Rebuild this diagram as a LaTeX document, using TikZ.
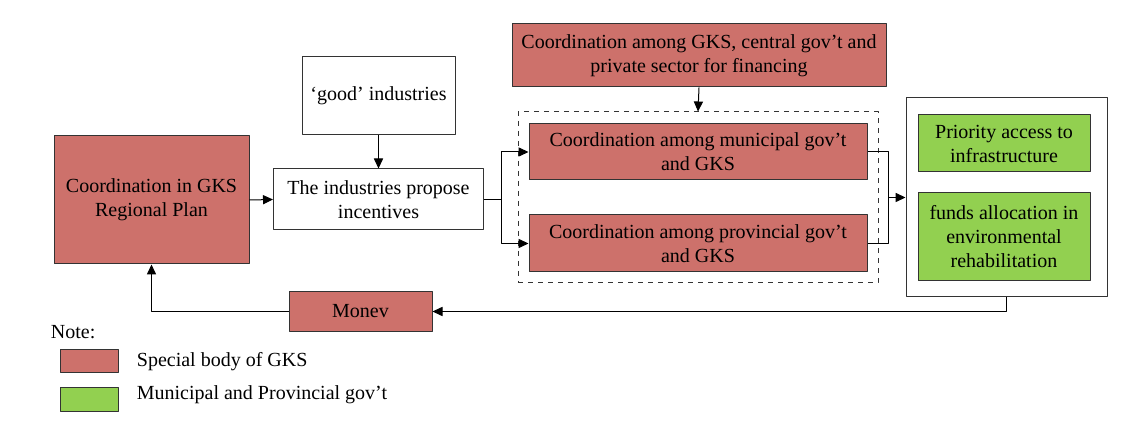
\documentclass[tikz,border=0pt]{standalone}
\usepackage{fontspec}
\setmainfont{Liberation Serif}
\usetikzlibrary{arrows.meta}

\definecolor{gksred}{RGB}{205,113,107}
\definecolor{govgreen}{RGB}{146,208,80}

\begin{document}
\begin{tikzpicture}[
  x=0.6pt,
  y=-0.6pt,
  line join=round,
  txt/.style={font=\rmfamily\fontsize{12}{14.4}\selectfont},
  basebox/.style={txt,draw=black!80,line width=0.6pt,align=center,inner sep=0pt},
  gksbox/.style={basebox,fill=gksred},
  govbox/.style={basebox,fill=govgreen},
  whitebox/.style={basebox,fill=white},
  boxsize/.style 2 args={minimum width=#1*0.6pt,minimum height=#2*0.6pt},
  arr/.style={line width=0.6pt,-{Triangle[length=6pt,width=5.5pt]}},
  link/.style={line width=0.6pt}
]
  \useasboundingbox (0,0) rectangle (1144,437);

  % Левая часть
  \node[gksbox,boxsize={195}{128}] (plan) at (151.5,200)
    {Coordination in GKS\\Regional Plan};
  \node[whitebox,boxsize={153}{78}] (good) at (378.5,96)
    {‘good’ industries};
  \node[whitebox,boxsize={210}{61}] (ind) at (378.5,199.5)
    {The industries propose\\incentives};

  % Координация
  \node[gksbox,boxsize={374}{63}] (fin) at (699,55.5)
    {Coordination among GKS, central gov’t and\\private sector for financing};
  \node[draw=black!80,dashed,line width=0.6pt,boxsize={360}{171}] (grp)
    at (698,197.5) {};
  \node[gksbox,boxsize={338}{56}] (mun) at (698,152)
    {Coordination among municipal gov’t\\and GKS};
  \node[gksbox,boxsize={338}{57}] (prov) at (698,243.5)
    {Coordination among provincial gov’t\\and GKS};

  % Результаты
  \node[whitebox,boxsize={201}{199}] (out) at (1006.5,197.5) {};
  \node[govbox,boxsize={172}{57}] (acc) at (1004,143.5)
    {Priority access to\\infrastructure};
  \node[govbox,boxsize={172}{88}] (fund) at (1004,237)
    {funds allocation in\\environmental\\rehabilitation};

  \node[gksbox,boxsize={143}{39}] (monev) at (360.5,311.5) {Monev};

  % Связи
  \draw[arr] (plan.east) -- (ind.west);
  \draw[arr] (good.south) -- (ind.north);
  \path (ind.east) ++(17,0) coordinate (bl);
  \draw[link] (ind.east) -- (bl);
  \draw[arr] (bl) |- (mun.west);
  \draw[arr] (bl) |- (prov.west);
  \draw[arr] (fin.south) -- (grp.north);
  \path (mun.east) ++(21,0) coordinate (br);
  \draw[link] (mun.east) -- (br) -- (br |- prov.east) -- (prov.east);
  \draw[arr] (br |- out.west) -- (out.west);
  \draw[arr] (out.south) |- (monev.east);
  \draw[arr] (monev.west) -| (plan.south);

  % Легенда
  \node[txt,anchor=west] (note) at (45,332) {Note:};
  \node[gksbox,boxsize={58}{23}] (legred) at (89,360.5) {};
  \node[govbox,boxsize={58}{24}] (leggreen) at (89,399) {};
  \node[txt,anchor=west] (legredtxt) at (131,361.5) {Special body of GKS};
  \node[txt,anchor=west] (leggreentxt) at (131,395)
    {Municipal and Provincial gov’t};
\end{tikzpicture}
\end{document}
